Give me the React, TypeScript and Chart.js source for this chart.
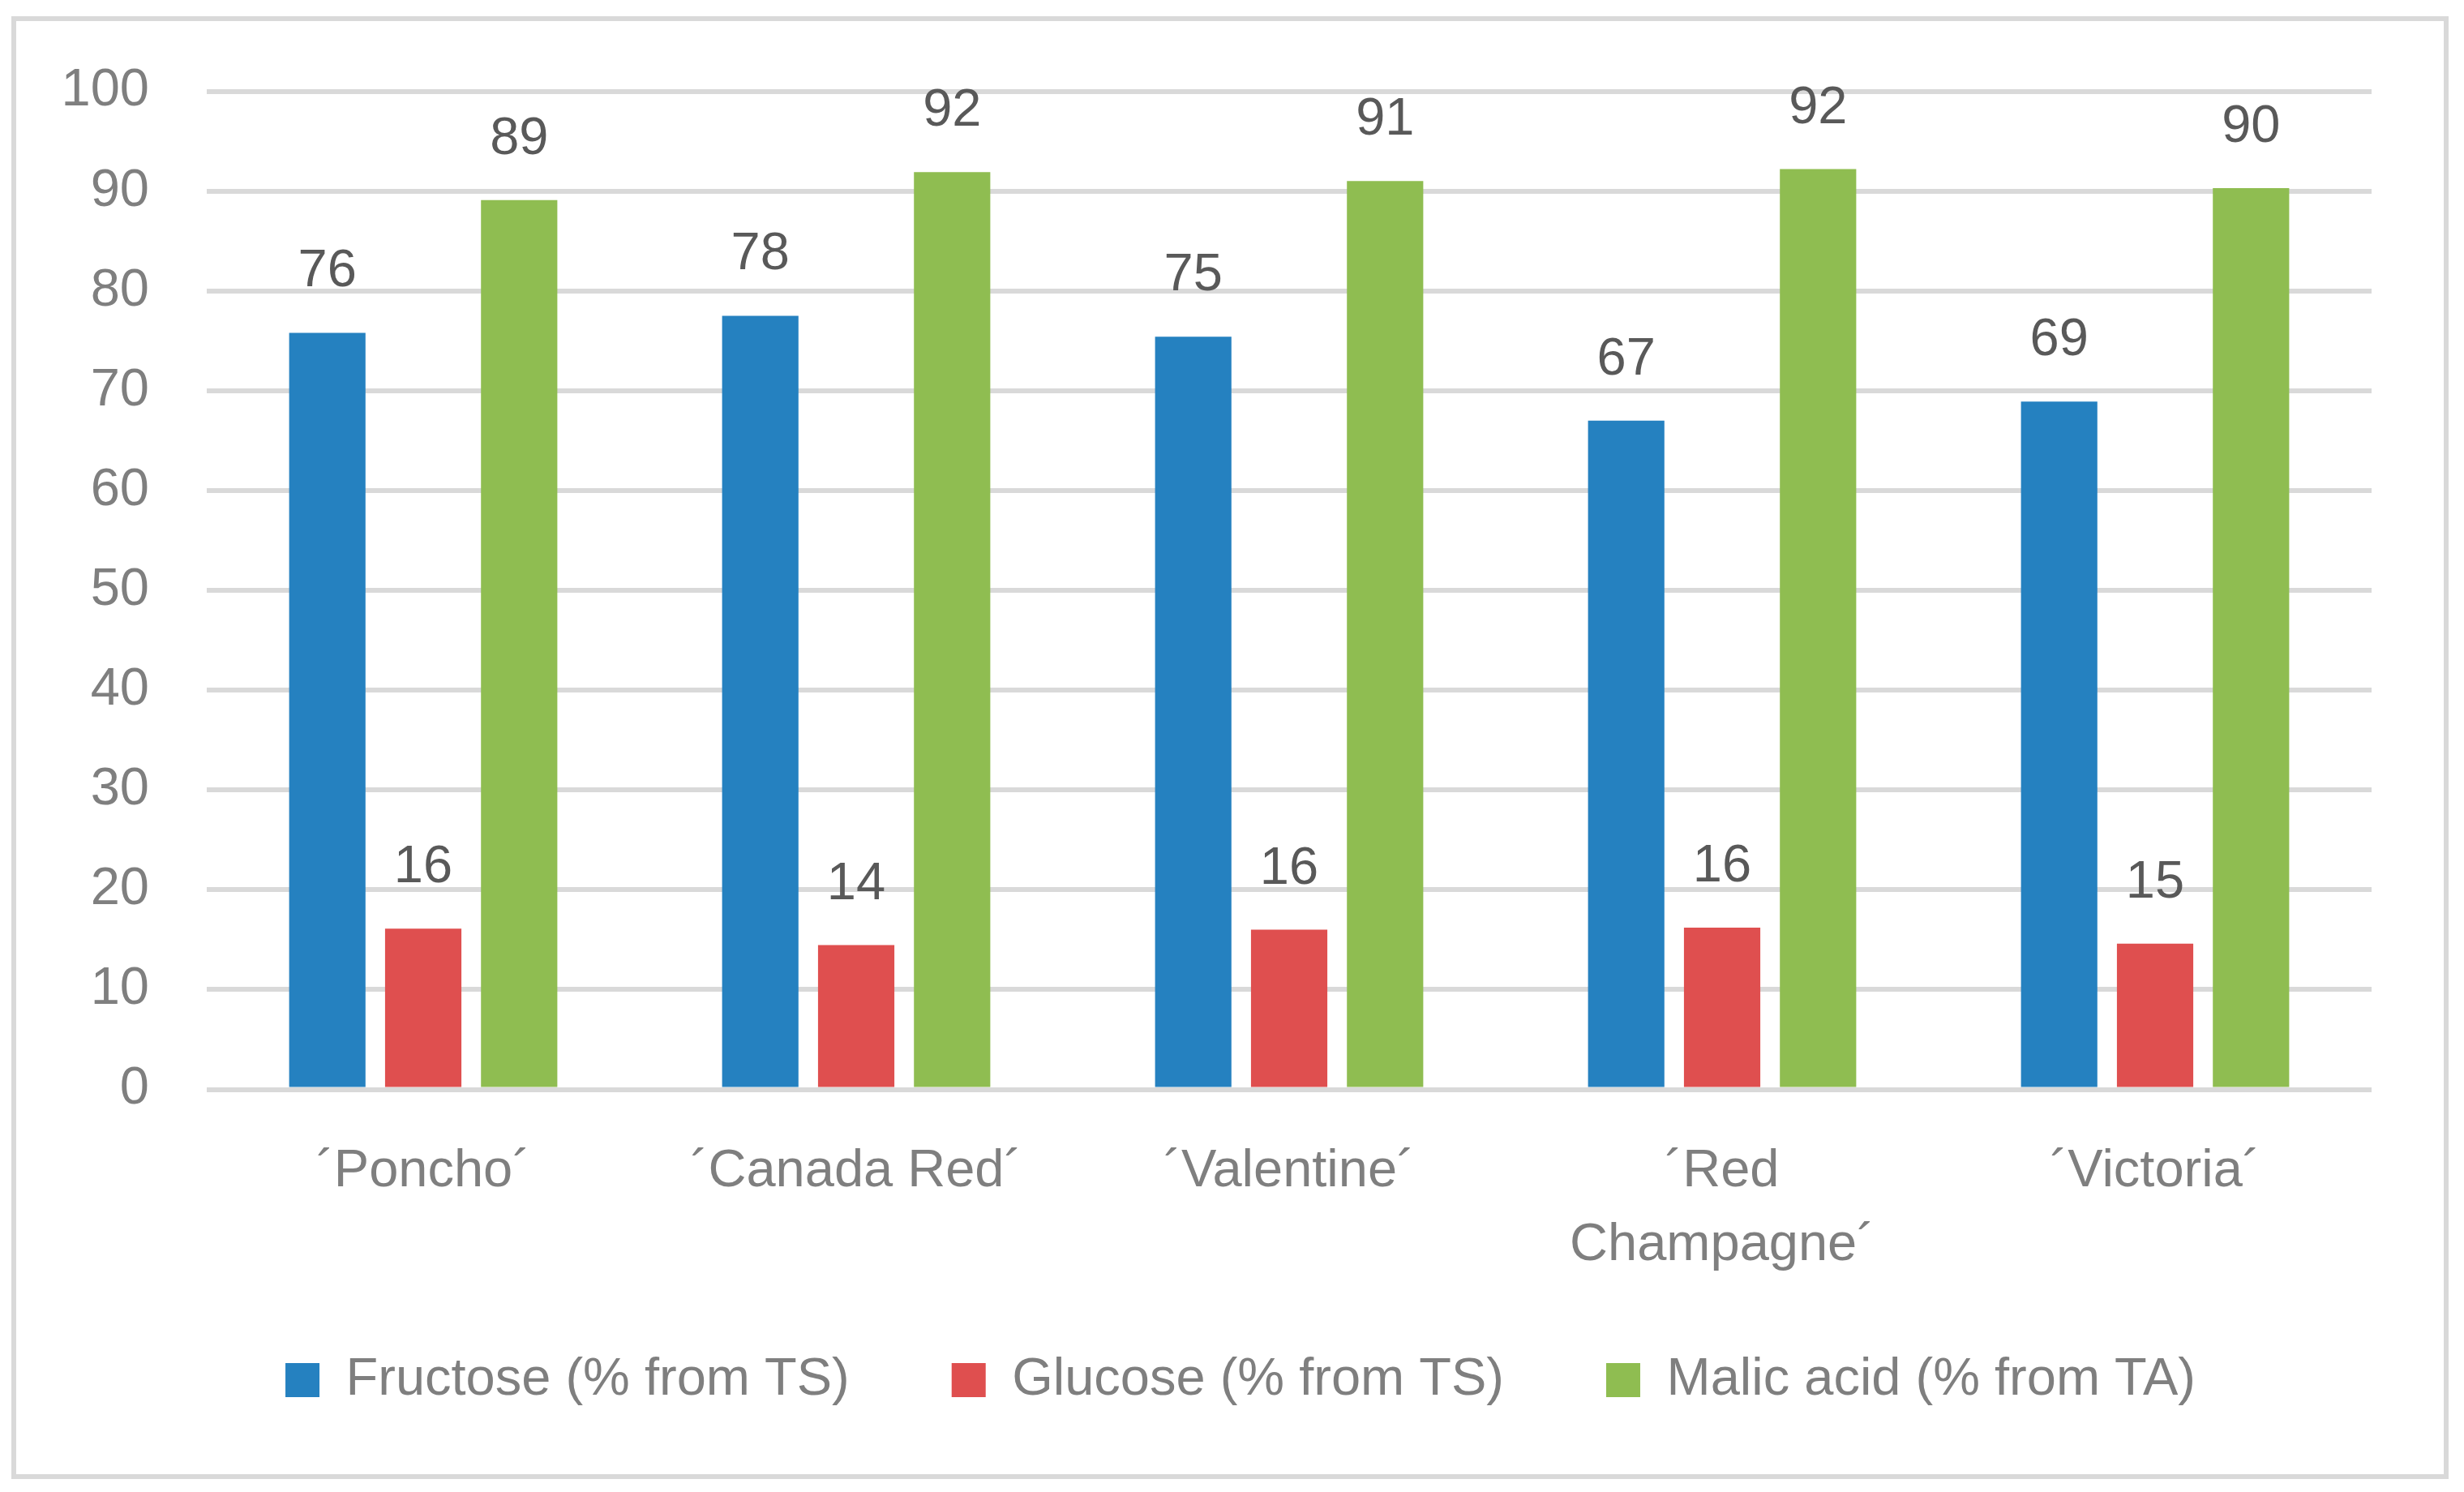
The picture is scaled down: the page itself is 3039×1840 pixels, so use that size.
import React, { useEffect, useRef } from "react";
import { Chart, registerables } from "chart.js";

Chart.register(...registerables);

const categories: (string | string[])[] = [
  "\u00B4Poncho\u00B4",
  "\u00B4Canada Red\u00B4",
  "\u00B4Valentine\u00B4",
  ["\u00B4Red", "Champagne\u00B4"],
  "\u00B4Victoria\u00B4",
];

const fructose = [75.8, 77.5, 75.4, 67.0, 68.9];
const glucose = [16.1, 14.45, 16.0, 16.2, 14.6];
const malicAcid = [89.1, 91.9, 91.0, 92.2, 90.3];

const seriesNames = [
  "Fructose (% from TS)",
  "Glucose (% from TS)",
  "Malic acid (% from TA)",
];

const FONT = "'Liberation Sans', Arial, sans-serif";

const valueLabelPlugin = {
  id: "valueLabels",
  afterDatasetsDraw(chart: any) {
    const ctx = chart.ctx;
    ctx.save();
    ctx.font = `65px ${FONT}`;
    ctx.fillStyle = "#595959";
    ctx.textAlign = "center";
    ctx.textBaseline = "alphabetic";
    chart.data.datasets.forEach((ds: any, i: number) => {
      const meta = chart.getDatasetMeta(i);
      meta.data.forEach((bar: any, j: number) => {
        const v = ds.data[j];
        ctx.fillText(String(Math.round(v)), bar.x, bar.y - 57);
      });
    });
    ctx.restore();
  },
};

const frameBorderPlugin = {
  id: "frameBorder",
  afterDraw(chart: any) {
    const ctx = chart.ctx;
    ctx.save();
    ctx.strokeStyle = "#D9D9D9";
    ctx.lineWidth = 6;
    ctx.strokeRect(17, 23, chart.width - 17 - 22, chart.height - 23 - 19);
    ctx.restore();
  },
};

export default function App() {
  const canvasRef = useRef<HTMLCanvasElement | null>(null);

  useEffect(() => {
    document.body.style.margin = "0";
    const canvas = canvasRef.current;
    if (!canvas) return;
    const chart = new Chart(canvas, {
      type: "bar",
      data: {
        labels: categories as any,
        datasets: [
          {
            label: seriesNames[0],
            data: fructose,
            backgroundColor: "#2581C0",
            borderWidth: 0,
          },
          {
            label: seriesNames[1],
            data: glucose,
            backgroundColor: "#DF4F4F",
            borderWidth: 0,
          },
          {
            label: seriesNames[2],
            data: malicAcid,
            backgroundColor: "#8FBD51",
            borderWidth: 0,
          },
        ],
      },
      options: {
        responsive: false,
        animation: false,
        devicePixelRatio: 1,
        layout: {
          padding: { left: 21, right: 0, top: 112.5, bottom: 95.5 },
        },
        datasets: {
          bar: {
            categoryPercentage: 0.6646,
            barPercentage: 0.796,
          },
        },
        plugins: {
          legend: {
            position: "bottom",
            labels: {
              boxWidth: 42,
              boxHeight: 42,
              padding: 126,
              color: "#7F7F7F",
              font: { family: FONT, size: 65 },
            },
          },
          tooltip: { enabled: false },
        },
        scales: {
          x: {
            grid: { display: false },
            border: { display: false },
            ticks: {
              color: "#7F7F7F",
              font: { family: FONT, size: 65, lineHeight: 91 / 65 },
              padding: -147,
              mirror: true,
              maxRotation: 0,
              autoSkip: false,
            },
            afterFit(scale: any) {
              scale.height = 200;
            },
          },
          y: {
            min: 0,
            max: 100,
            border: { display: false },
            grid: {
              color: "#D9D9D9",
              lineWidth: 6,
              drawTicks: false,
            },
            ticks: {
              stepSize: 10,
              color: "#7F7F7F",
              font: { family: FONT, size: 65 },
              padding: 71,
            },
            afterFit(scale: any) {
              scale.width = 234;
            },
          },
          yRightSpace: {
            type: "linear",
            position: "right",
            display: true,
            grid: { display: false },
            border: { display: false },
            ticks: { display: false },
            afterFit(scale: any) {
              scale.width = 114;
            },
          },
        },
      },
      plugins: [valueLabelPlugin, frameBorderPlugin],
    });
    return () => chart.destroy();
  }, []);

  return (
    <div
      style={{
        position: "fixed",
        left: 0,
        top: 0,
        width: 3039,
        height: 1840,
        background: "#FFFFFF",
      }}
    >
      <canvas
        ref={canvasRef}
        width={3039}
        height={1840}
        style={{ width: 3039, height: 1840, display: "block" }}
      />
    </div>
  );
}
